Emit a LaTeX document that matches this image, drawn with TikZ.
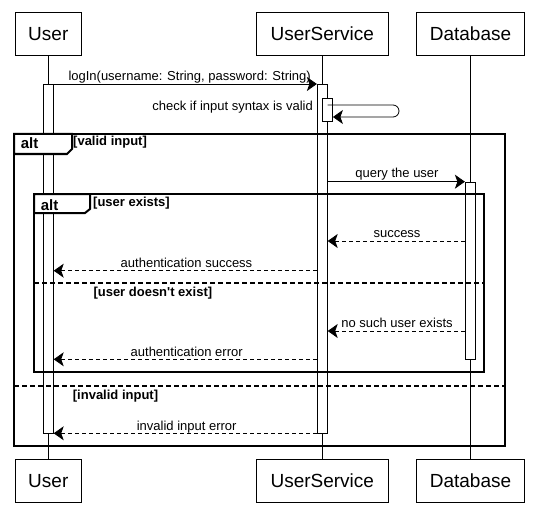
\documentclass[tikz,border=0pt]{standalone}
\usepackage{fontspec}
\setmainfont{Liberation Sans}
\usetikzlibrary{arrows.meta,calc}
\tikzset{
  part/.style={draw, line width=0.8pt, fill=white, inner sep=0pt, font=\fontsize{19}{22}\selectfont},
  act/.style={draw, line width=0.8pt, fill=white, inner sep=0pt, minimum width=10pt},
  life/.style={line width=0.8pt},
  msg/.style={line width=0.8pt, -{Stealth[length=10pt,width=14pt,inset=2.5pt]}},
  ret/.style={msg, dash pattern=on 4pt off 3pt},
  lbl/.style={inner sep=0pt, font=\fontsize{13}{15}\selectfont},
  frame/.style={line width=2pt},
  divider/.style={line width=2pt, dash pattern=on 5pt off 3pt},
  guard/.style={inner sep=0pt, font=\bfseries\fontsize{13}{15}\selectfont},
  altlbl/.style={inner sep=0pt, font=\bfseries\fontsize{15}{17}\selectfont},
}
\begin{document}
\begin{tikzpicture}[x=1pt,y=-1pt]
\useasboundingbox (0,0) rectangle (538,508);
% participants
\node[part, minimum width=66.7pt, minimum height=43.4pt] (u) at (48.3,34) {User};
\node[part, minimum width=132pt, minimum height=43.4pt] (s) at (322.3,34) {UserService};
\node[part, minimum width=107.6pt, minimum height=43.4pt] (d) at (470.5,34) {Database};
\node[part, minimum width=66.7pt, minimum height=43.4pt] (u2) at (48.3,481) {User};
\node[part, minimum width=132pt, minimum height=43.4pt] (s2) at (322.3,481) {UserService};
\node[part, minimum width=107.6pt, minimum height=43.4pt] (d2) at (470.5,481) {Database};
% lifelines
\draw[life] (u) -- (u2);
\draw[life] (s) -- (s2);
\draw[life] (d) -- (d2);
% activations
\node[act, minimum height=349.3pt, anchor=north] (ua) at (48.3,84) {};
\node[act, minimum height=349pt, anchor=north] (sa) at (322.3,84) {};
\node[act, minimum height=23pt, anchor=north] (sb) at (327.5,98) {};
\node[act, minimum height=177.6pt, anchor=north] (da) at (470.3,181.7) {};
% y levels
\coordinate (yself1) at (0,105);
\coordinate (yself2) at (0,117);
\coordinate (ysucc) at (0,241);
\coordinate (yauth) at (0,270.7);
\coordinate (ynone) at (0,331);
\coordinate (yerr) at (0,359.3);
\coordinate (yinv) at (0,433.3);
\coordinate (selfturn) at (399,105);
% messages
\draw[msg] (ua.north east) -- (sa.north west);
\node[lbl, anchor=base west] (l1) at (68.3,81) {logIn(username: String, password: String)};
\draw[msg, rounded corners=6pt] (sa.east |- yself1) -- (selfturn) -- (selfturn |- yself2) -- (sb.east |- yself2);
\node[lbl, anchor=base east] (l2) at (313,110.5) {check if input syntax is valid};
\draw[msg] (sa.east |- da.north) -- (da.north west);
\node[lbl, anchor=base] (l3) at (397,177) {query the user};
\draw[ret] (da.west |- ysucc) -- (sa.east |- ysucc);
\node[lbl, anchor=base] (l4) at (397,237.5) {success};
\draw[ret] (sa.west |- yauth) -- (ua.east |- yauth);
\node[lbl, anchor=base] (l5) at (186.5,267) {authentication success};
\draw[ret] (da.west |- ynone) -- (sa.east |- ynone);
\node[lbl, anchor=base] (l6) at (397,327.5) {no such user exists};
\draw[ret] (sa.west |- yerr) -- (ua.east |- yerr);
\node[lbl, anchor=base] (l7) at (186.7,356) {authentication error};
\draw[ret] (sa.west |- yinv) -- (ua.east |- yinv);
\node[lbl, anchor=base] (l8) at (186.7,430) {invalid input error};
% outer alt frame
\draw[frame] (14,134) rectangle (505,446);
\draw[frame, fill=white] (14,134) -- (72,134) -- (72,149) -- (67,154) -- (14,154) -- cycle;
\node[altlbl, anchor=base west] (alt1) at (20.7,148.3) {alt};
\node[guard, anchor=base west] (g1) at (73,146) {[valid input]};
\draw[divider] (14,386) -- (505,386);
\node[guard, anchor=base west] (g4) at (72.7,399) {[invalid input]};
% inner alt frame
\draw[frame] (34,194) rectangle (484,372);
\draw[frame, fill=white] (34,194) -- (90,194) -- (90,209) -- (85,213) -- (34,213) -- cycle;
\node[altlbl, anchor=base west] (alt2) at (40.7,210) {alt};
\node[guard, anchor=base west] (g2) at (93,206) {[user exists]};
\draw[divider] (34,283) -- (484,283);
\node[guard, anchor=base west] (g3) at (93.3,296) {[user doesn\textquotesingle t exist]};
\end{tikzpicture}
\end{document}
